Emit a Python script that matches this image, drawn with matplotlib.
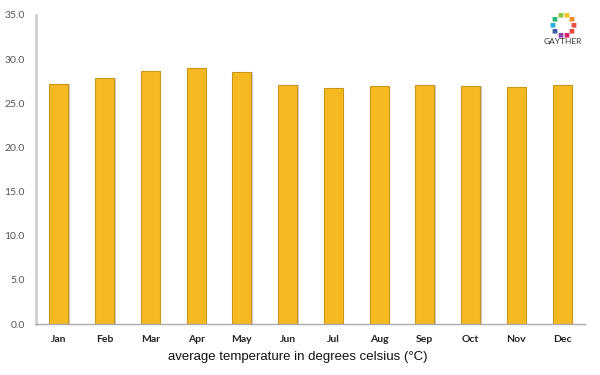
import numpy as np
import matplotlib
matplotlib.use("Agg")
import matplotlib.pyplot as plt

months = ["Jan", "Feb", "Mar", "Apr", "May", "Jun",
          "Jul", "Aug", "Sep", "Oct", "Nov", "Dec"]
temps = [27.2, 27.9, 28.7, 29.0, 28.5, 27.1, 26.7, 27.0, 27.1, 27.0, 26.8, 27.1]
yticks = [0, 5, 10, 15, 20, 25, 30, 35]

plt.rcParams['font.family'] = ['Lato', 'DejaVu Sans']

fig = plt.figure(figsize=(6, 3.75), dpi=100)
ax = fig.add_axes([36/600, 1-324/375, 549/600, 309/375])

x = np.arange(len(months))
# faint shadow behind bars
ax.bar(x + 0.03, temps, width=0.42, color="#c9ccd6", zorder=1)
ax.bar(x, temps, width=0.42, color="#f5b922", edgecolor="#c99618", linewidth=0.8, zorder=2)

ax.set_xlim(-0.5, 11.5)
ax.set_ylim(0, 35)
ax.set_yticks(yticks)
ax.set_yticklabels([f"{v:.1f}" for v in yticks], fontsize=7.5, color="#555555")
ax.set_xticks(x)
ax.set_xticklabels(months, fontsize=7.5, color="#222222", fontweight="bold")
ax.tick_params(length=0, pad=8)
ax.tick_params(axis="y", pad=8)

for s in ["top", "right"]:
    ax.spines[s].set_visible(False)
ax.spines["left"].set_color("#d0d0d0")
ax.spines["left"].set_linewidth(2)
ax.spines["bottom"].set_color("#aaaaaa")
ax.spines["bottom"].set_linewidth(1)

fig.text(0.497, 1-357/375, "average temperature in degrees celsius (°C)",
         ha="center", va="center", fontsize=9.5, color="#111111",
         family=['Liberation Sans', 'DejaVu Sans'])

# logo
logo_cols = ["#e94b3c", "#f28c28", "#f7c51e", "#8cc63f", "#2bb673", "#27aae1",
             "#3b5ba9", "#8e44ad", "#d6246e", "#e94b3c"]
ang = np.linspace(0, 2*np.pi, len(logo_cols), endpoint=False)
lx = 563/600 + 0.017*np.cos(ang)
ly = 1-25/375 + 0.027*np.sin(ang)
for xi, yi, c in zip(lx, ly, logo_cols):
    fig.text(xi, yi, "■", color=c, fontsize=4.5, ha="center", va="center")
fig.text(563/600, 1-42/375, "GAYTHER", ha="center", va="center",
         fontsize=6, color="#333333")

fig.savefig("out.png", dpi=100)
